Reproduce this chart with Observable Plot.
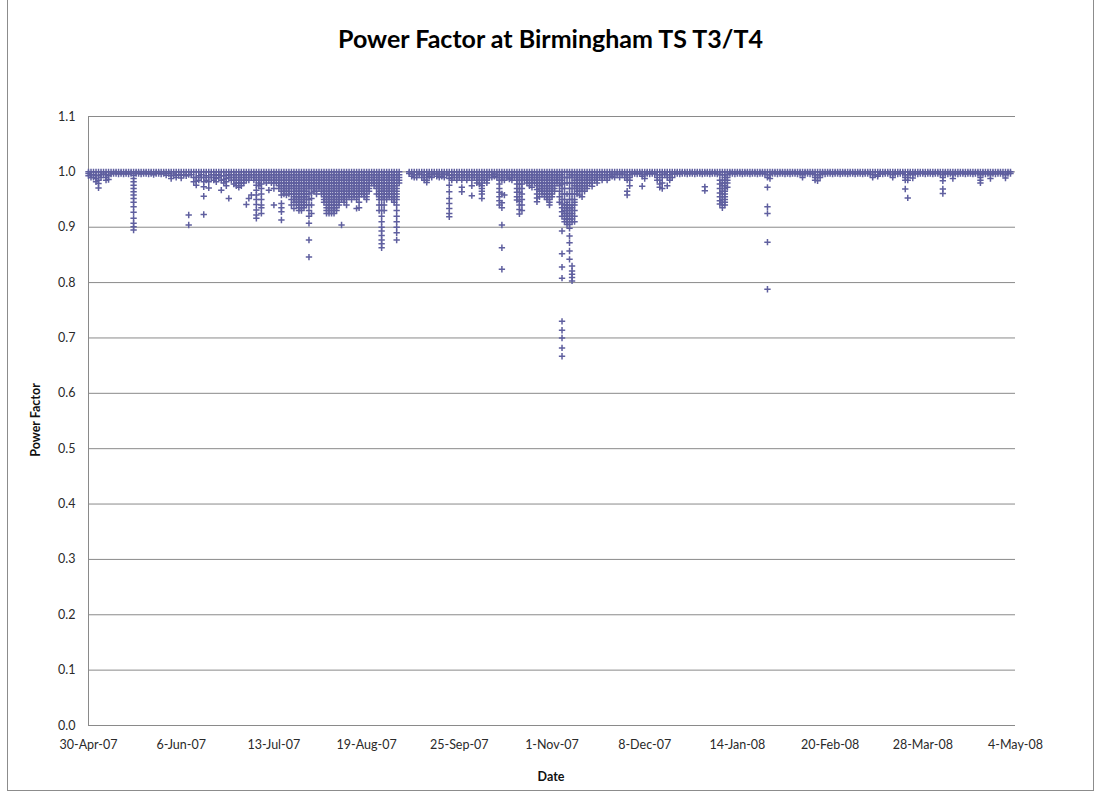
<!DOCTYPE html>
<html>
<head>
<meta charset="utf-8">
<script src="https://cdn.jsdelivr.net/npm/d3@7"></script>
<script src="https://cdn.jsdelivr.net/npm/@observablehq/plot@0.6"></script>
<style>
  html, body { margin: 0; padding: 0; background: #fff; }
  #wrap { position: relative; width: 1101px; height: 798px; overflow: hidden; font-family: Lato, "Open Sans", sans-serif; }
  #wrap svg { position: absolute; left: 0; top: 0; }
  #border { position: absolute; left: 7px; top: -1px; width: 1087px; height: 792px; border: 1px solid #8c8c8c; box-sizing: border-box; pointer-events: none; }
  #title { position: absolute; left: 0; width: 1101px; top: 23px; line-height: 30px; text-align: center; font-weight: bold; font-size: 25px; color: #000; }
  #ylabel { position: absolute; left: 35px; top: 420px; transform: translate(-50%, -50%) rotate(-90deg); font-weight: bold; font-size: 12.5px; color: #111; white-space: nowrap; }
  #xlabel { position: absolute; left: 551px; top: 776px; transform: translate(-50%, -50%); font-weight: bold; font-size: 12.5px; color: #111; }
</style>
</head>
<body>
<div id="wrap">
  <div id="title">Power Factor at Birmingham TS T3/T4</div>
  <div id="ylabel">Power Factor</div>
  <div id="xlabel">Date</div>
  <div id="border"></div>
</div>
<script>
// Day offsets from 30-Apr-07, followed by the power factor readings seen on that day
const may07 = [
[0,1,.997,.993],[1,1,.995,.99],[2,1,.995,.99],[3,1,.994,.988,.982],[4,1,.993,.985,.979,.971],[5,1,.995,.99],[6,1,.996],[7,1,.995,.99,.985],[8,1,.993,.986],[9,1,.996],[10,1,.997],[11,1,.997],[12,1,.996],[13,1,.997],[14,1,.996],[15,1,.997],[16,1,.996],[17,1,.997],
[18,1,.994,.988,.982,.976,.97,.964,.958,.952,.945,.937,.927,.916,.907,.901,.895],
[19,1,.997],[20,1,.997],[21,1,.996],[22,1,.997],[23,1,.997],[24,1,.996],[25,1,.997],[26,1,.995],[27,1,.997],[28,1,.997],[29,1,.996],[30,1,.997],[31,1,.994]
];
const jun07 = [
[32,1,.997],[33,1,.993,.988],[34,1,.996],[35,1,.994,.99],[36,1,.995],[37,1,.994,.989],[38,1,.995],[39,1,.993],[40,1,.995,.922,.904],[41,1,.995],[42,1,.99,.982],[43,1,.99,.983,.976],[44,1,.993,.985],[45,1,.995,.99],[46,1,.99,.982,.973,.956,.923],[47,1,.993,.985],[48,1,.99,.982,.971],[49,1,.995,.99],[50,1,.995,.99,.985],[51,1,.994,.988,.982],[52,1,.995,.99],[53,1,.993,.985,.967],[54,1,.993,.986,.98],[55,1,.994,.988,.982,.975],[56,1,.995,.99,.952],[57,1,.995,.99,.985],[58,1,.995,.99,.985,.978],[59,1,.995,.99,.985,.98,.975],[60,1,.995,.99,.985,.98,.972],[61,1,.995,.99,.985,.98,.975]
];
const jul07 = [
[62,1,.995,.99,.985,.98],[63,1,.995,.99,.985,.941],[64,1,.995,.99,.985,.952],[65,1,.995,.99,.958],[66,1,.995,.99,.985],
[67,1,.995,.99,.985,.976,.967,.958,.95,.941,.931,.922,.916],[68,1,.995,.99,.985,.98,.975],
[69,1,.995,.99,.985,.978,.97,.96,.95,.94,.935,.925],[70,1,.995,.99,.985],[71,1,.995,.99,.985,.98],[72,1,.995,.99,.985,.967],[73,1,.995,.99,.985,.98],[74,1,.995,.99,.985,.98,.97,.94],[75,1,.995,.99,.985,.98],[76,1,.995,.99,.985,.98,.975,.97],
[77,1,.995,.99,.985,.98,.975,.97,.965,.958,.943,.935,.928,.913],
[78,1,.995,.99,.985,.98,.975,.97,.965,.96],[79,1,.995,.99,.985,.98,.975,.97,.965,.958],[80,1,.995,.99,.985,.98,.975,.97,.965,.96],
[81,1,.995,.99,.985,.98,.975,.97,.96,.95,.94],
[82,1,.995,.99,.985,.98,.975,.97,.965,.96,.955,.95,.945,.934],
[83,1,.995,.99,.985,.98,.975,.97,.965,.96,.955,.95,.945,.94],
[84,1,.995,.99,.985,.98,.975,.97,.965,.96,.955,.95,.945,.94,.935,.93],
[85,1,.995,.99,.985,.98,.975,.97,.965,.96,.955,.95,.945,.94,.935,.93],
[86,1,.995,.99,.985,.98,.975,.97,.965,.96,.955,.95,.945,.94,.935],
[87,1,.995,.99,.985,.98,.975,.97,.965,.96,.955,.95,.94],
[88,1,.995,.99,.985,.98,.975,.97,.96,.95,.94,.93,.92,.907,.877,.846],
[89,1,.995,.99,.985,.98,.975,.97,.962,.952,.94,.925],[90,1,.995,.99,.985,.98,.975,.97,.965],
[91,1,.995,.99,.985,.98,.975,.97,.965,.96],[92,1,.995,.99,.985,.98,.975,.97]
];
const aug07 = [
[93,1,.995,.99,.985,.98,.975,.97,.965,.96],
[94,1,.995,.99,.985,.98,.975,.97,.965,.96,.955,.95,.945],
[95,1,.995,.99,.985,.98,.975,.97,.965,.96,.955,.95,.945,.94,.935,.93,.925],
[96,1,.995,.99,.985,.98,.975,.97,.965,.96,.955,.95,.945,.94,.935,.93,.925],
[97,1,.995,.99,.985,.98,.975,.97,.965,.96,.955,.95,.945,.94,.935,.93,.925],
[98,1,.995,.99,.985,.98,.975,.97,.965,.96,.955,.95,.945,.94,.935,.93,.925],
[99,1,.995,.99,.985,.98,.975,.97,.965,.96,.955,.95,.945,.94,.935,.93],
[100,1,.995,.99,.985,.98,.975,.97,.965,.96,.955,.95,.945,.94],
[101,1,.995,.99,.985,.98,.975,.97,.965,.96,.955,.95,.904],
[102,1,.995,.99,.985,.98,.975,.97,.965,.96,.955,.95,.945],
[103,1,.995,.99,.985,.98,.975,.97,.965,.96,.955,.95,.94],
[104,1,.995,.99,.985,.98,.975,.97,.965,.96,.955],
[105,1,.995,.99,.985,.98,.975,.97,.965,.96,.955,.95],
[106,1,.995,.99,.985,.98,.975,.97,.965,.96,.955],
[107,1,.995,.99,.985,.98,.975,.97,.965,.96,.955,.95,.934],
[108,1,.995,.99,.985,.98,.975,.97,.965,.96,.955,.945,.935],
[109,1,.995,.99,.985,.98,.975,.97,.965,.96],
[110,1,.995,.99,.985,.98,.975,.97,.965,.96,.955],
[111,1,.995,.99,.985,.98,.975,.97,.965,.96,.955,.95],
[112,1,.995,.99,.985,.98,.975,.97,.965],
[113,1,.995,.99,.985,.98],[114,1,.995,.99,.985,.98,.975],[115,1,.995,.99,.985,.98,.975,.97,.96],
[116,1,.995,.99,.985,.98,.975,.97,.965,.96,.955,.95,.94,.93],
[117,1,.995,.99,.985,.98,.975,.97,.965,.96,.955,.95,.94,.93,.92,.91,.9,.893,.885,.877,.87,.863],
[118,1,.995,.99,.985,.98,.975,.97,.965,.96,.955,.95,.94,.93],
[119,1,.995,.99,.985,.98,.975,.97,.965,.96,.955,.95],
[120,1,.995,.99,.985,.98,.975,.97,.965,.96,.955],
[121,1,.995,.99,.985,.98,.975,.97,.965,.96,.955,.95],
[122,1,.995,.99,.985,.98,.975,.97,.965,.96,.955,.95,.945],
[123,1,.995,.99,.985,.98,.975,.97,.965,.96,.955,.95,.94,.93,.92,.91,.9,.89,.877]
];
const sep07 = [
[124,1,.995,.99,.985,.98],[128,1,.997],[129,1,.996,.992],[130,1,.995,.99],[131,1,.995,.99],[132,1,.996],[133,1,.995,.99],[134,1,.995,.99,.985],[135,1,.995,.99,.985,.981],[136,1,.996,.992],[137,1,.995,.99],[138,1,.996],[139,1,.996,.992],[140,1,.995,.99],[141,1,.996,.992],[142,1,.995,.99],[143,1,.996],
[144,1,.994,.988,.976,.964,.952,.943,.934,.925,.919],[145,1,.995,.99,.985],[146,1,.995,.99],[147,1,.995,.99,.985],[148,1,.995,.99],[149,1,.995,.99,.985,.972,.964],[150,1,.995,.99],[151,1,.995,.99,.985],[152,1,.995,.99],[153,1,.995,.99,.985,.975,.957]
];
const oct07 = [
[154,1,.995,.99],[155,1,.995,.99,.985,.98],[156,1,.995,.99,.985,.978],[157,1,.995,.99,.985,.98,.975,.97,.965,.96,.952],[158,1,.995,.99,.985],[159,1,.995,.99,.985,.98],[160,1,.995,.99],[161,1,.995,.99],[162,1,.996,.992],[163,1,.995,.99],
[164,1,.995,.99,.985,.978,.97,.963,.955,.948,.94],[165,1,.995,.99,.985,.96,.944,.935,.904,.863,.824],[166,1,.995,.99,.985,.958],[167,1,.995,.99],[168,1,.995,.99,.987],[169,1,.995,.99,.985],[170,1,.995,.99],
[171,1,.995,.99,.985,.978,.97,.963,.955,.949],[172,1,.995,.99,.985,.978,.97,.963,.955,.947,.94,.932,.924],[173,1,.995,.99,.985,.978,.97,.96,.95,.94,.93],
[174,1,.995,.99,.985],[175,1,.995,.99,.985,.98],[176,1,.995,.99,.985,.98,.975],[177,1,.995,.99,.985,.98,.972],[178,1,.995,.99,.985,.98],
[179,1,.995,.99,.985,.98,.975,.968,.96,.953,.946],[180,1,.995,.99,.985,.98,.975,.97,.965,.955],
[181,1,.995,.99,.985,.98,.975,.97,.965,.96],[182,1,.995,.99,.985,.98,.975,.97,.965,.96,.955],[183,1,.995,.99,.985,.98,.975,.97,.965,.96,.955,.95],[184,1,.995,.99,.985,.98,.975,.97,.965,.96,.955,.95,.945,.94]
];
const nov07 = [
[185,1,.995,.99,.985,.98,.975,.97,.965,.96,.955],[186,1,.995,.99,.985,.98,.975,.97,.965],[187,1,.995,.99,.985,.98],[188,1,.995,.99,.985,.98,.975,.965,.955,.945],
[189,1,.995,.99,.985,.978,.97,.96,.95,.942,.935,.928,.92,.893,.852,.828,.808,.73,.714,.7,.682,.667],
[190,1,.99,.98,.97,.96,.95,.94,.935,.93,.925,.92,.915,.91],
[191,1,.99,.98,.96,.945,.94,.935,.93,.925,.92,.915,.91,.905],
[192,1,.995,.99,.98,.97,.96,.95,.94,.935,.93,.925,.92,.915,.91,.905,.898,.884,.872,.857,.842],
[193,1,.995,.99,.98,.97,.96,.95,.94,.935,.93,.925,.92,.915,.91,.83,.821,.815,.809,.803],
[194,1,.995,.99,.985,.98,.975,.97,.96,.95,.945,.94,.93,.92,.91],
[195,1,.995,.99,.985,.98,.975,.97,.965,.96],[196,1,.995,.99,.985,.98,.975,.97,.965,.958],[197,1,.995,.99,.985,.98,.975,.97,.965,.955],[198,1,.995,.99,.985,.98,.975,.97,.965],[199,1,.995,.99,.985,.98,.975,.97],
[200,1,.995,.99,.985,.98],[201,1,.995,.99,.985,.98,.974],[202,1,.995,.99,.985],[203,1,.995,.99,.985,.98],[204,1,.995,.99],[205,1,.995,.99,.985],[206,1,.995,.99],[207,1,.995,.99,.985],[208,1,.995,.99],[209,1,.996,.992],[210,1,.995,.99],[211,1,.996],[212,1,.995,.99],[213,1,.996],[214,1,.995,.99]
];
const dec07 = [
[215,1,.995,.99,.985,.965,.958],[216,1,.995,.99,.985,.975],[217,1,.996],[218,1,.997],[219,1,.996],[220,1,.997],[221,1,.996,.992,.974],[222,1,.995,.988],[223,1,.997],[224,1,.996],[225,1,.997],[226,1,.996],
[227,1,.995,.99,.985],[228,1,.995,.985,.978,.972],[229,1,.995,.99,.98,.97],[230,1,.996],[231,1,.995,.99,.975],[232,1,.995,.99,.985],[233,1,.996,.99],[234,1,.996],[235,1,.997],[236,1,.996],[237,1,.997],[238,1,.997],[239,1,.996],[240,1,.997],[241,1,.997],[242,1,.996],[243,1,.997],[244,1,.997],[245,1,.996]
];
const jan08 = [
[246,1,.997,.973,.966],[247,1,.997],[248,1,.996],[249,1,.997],[250,1,.997],[251,1,.996],
[252,1,.995,.985,.978,.97,.962,.955,.948,.942],[253,1,.995,.985,.98,.975,.97,.965,.96,.955,.95,.945,.94,.935],[254,1,.995,.99,.985,.98,.975,.97,.965,.96,.955,.95,.945,.94],[255,1,.995,.99,.985,.98,.972],
[256,1,.997],[257,1,.997],[258,1,.996],[259,1,.997],[260,1,.997],[261,1,.996],[262,1,.997],[263,1,.997],[264,1,.996],[265,1,.997],[266,1,.997],[267,1,.996],[268,1,.997],[269,1,.997],[270,1,.996],
[271,1,.995,.99,.972,.937,.925,.873,.788],[272,1,.995,.988],[273,1,.997],[274,1,.997],[275,1,.996],[276,1,.997]
];
const feb08 = [
[277,1,.997],[278,1,.996],[279,1,.997],[280,1,.996],[281,1,.997],[282,1,.997],[283,1,.996],[284,1,.997],[285,1,.995,.99],[286,1,.997],[287,1,.997],[288,1,.996],[289,1,.997],
[290,1,.995,.99,.985],[291,1,.995,.99,.984],[292,1,.995,.99],[293,1,.997],[294,1,.996],[295,1,.997],[296,1,.997],[297,1,.996],[298,1,.997],[299,1,.997],[300,1,.996],[301,1,.997],[302,1,.997],[303,1,.996],[304,1,.997],[305,1,.997]
];
const mar08 = [
[306,1,.996],[307,1,.997],[308,1,.997],[309,1,.996],[310,1,.997],[311,1,.997],[312,1,.996],[313,1,.995,.99],[314,1,.995],[315,1,.995,.992],[316,1,.997],[317,1,.996],[318,1,.997],[319,1,.997],[320,1,.996],[321,1,.995,.99],[322,1,.997],[323,1,.996],[324,1,.997],[325,1,.997],
[326,1,.995,.99,.985,.969],[327,1,.995,.99,.985,.953],[328,1,.997],[329,1,.995,.989],[330,1,.997],[331,1,.996],[332,1,.997],[333,1,.997],[334,1,.996],[335,1,.997],[336,1,.997]
];
const apr08 = [
[337,1,.996],[338,1,.997],[339,1,.997],[340,1,.996],[341,1,.995,.99,.984,.969,.961],[342,1,.997],[343,1,.996],[344,1,.997],[345,1,.995,.988],[346,1,.997],[347,1,.996],[348,1,.997],[349,1,.997],[350,1,.996],[351,1,.997],[352,1,.997],[353,1,.996],[354,1,.997],[355,1,.997],
[356,1,.995,.99,.985,.98],[357,1,.997],[358,1,.996],[359,1,.997],[360,1,.995,.988],[361,1,.997],[362,1,.996],[363,1,.997],[364,1,.997],[365,1,.996],[366,1,.995,.989],[367,1,.997],[368,1,.997]
];

const tickDays = [0, 37, 74, 111, 148, 185, 222, 259, 296, 333, 370];
const tickLabels = ["30-Apr-07","6-Jun-07","13-Jul-07","19-Aug-07","25-Sep-07","1-Nov-07","8-Dec-07","14-Jan-08","20-Feb-08","28-Mar-08","4-May-08"];
const yTicks = [0, 0.1, 0.2, 0.3, 0.4, 0.5, 0.6, 0.7, 0.8, 0.9, 1.0, 1.1];

const START = Date.UTC(2007, 3, 30);
const DAY = 86400000;
const toDate = d => new Date(START + d * DAY);

const points = [may07, jun07, jul07, aug07, sep07, oct07, nov07, dec07, jan08, feb08, mar08, apr08]
  .flat()
  .flatMap(([d, ...vals]) => vals.map(v => ({date: toDate(d), pf: v})));

const tickDates = tickDays.map(toDate);
const labelByTime = new Map(tickDates.map((t, i) => [+t, tickLabels[i]]));

const chart = Plot.plot({
  width: 1101,
  height: 798,
  marginLeft: 88,
  marginRight: 86,
  marginTop: 116,
  marginBottom: 73,
  style: {fontFamily: "Lato, 'Open Sans', sans-serif", fontSize: "12.5px", color: "#2a2a2a", background: "transparent", overflow: "visible"},
  x: {type: "utc", domain: [toDate(0), toDate(370)], ticks: tickDates, tickFormat: d => labelByTime.get(+d) ?? "", tickSize: 0, tickPadding: 15, label: null},
  y: {domain: [0, 1.1], ticks: yTicks, tickFormat: d => d.toFixed(1), tickSize: 0, tickPadding: 13, label: null},
  marks: [
    Plot.ruleY(yTicks, {stroke: "#8a8a8a", strokeWidth: 1}),
    Plot.ruleX([toDate(0)], {y1: 0, y2: 1.1, stroke: "#8a8a8a", strokeWidth: 1}),
    Plot.dot(points, {x: "date", y: "pf", symbol: "plus", r: 2.2, stroke: "#5f5f9f", strokeWidth: 1.5})
  ]
});
document.getElementById("wrap").insertBefore(chart, document.getElementById("title"));
</script>
</body>
</html>
